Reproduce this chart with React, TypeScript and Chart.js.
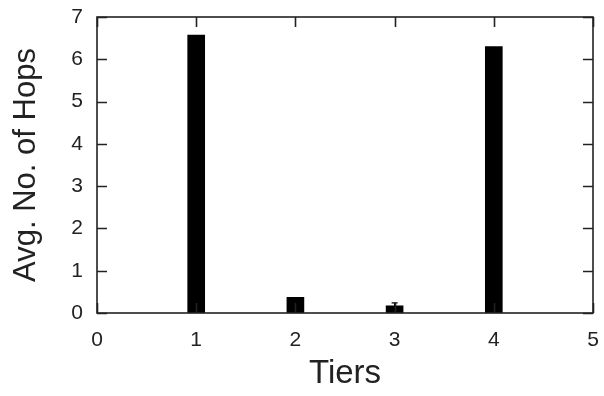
import React, { useEffect, useRef } from "react";
import { Chart, registerables } from "chart.js";

Chart.register(...registerables);

const tiers = [1, 2, 3, 4];
const avgHops = [6.57, 0.37, 0.17, 6.3];
const hopErrors = [0.0, 0.0, 0.07, 0.0];
const xTicks = [0, 1, 2, 3, 4, 5];
const yTicks = [0, 1, 2, 3, 4, 5, 6, 7];

const FONT = "'Liberation Sans', Arial, Helvetica, sans-serif";

const framePlugin = {
  id: "frameTicks",
  afterDatasetsDraw(chart: any) {
    const { ctx, chartArea: a, scales } = chart;
    const xs = scales.x;
    const ys = scales.y;
    ctx.save();
    // error bars
    ctx.strokeStyle = "#000";
    ctx.lineWidth = 1.2;
    tiers.forEach((t, i) => {
      const e = hopErrors[i];
      if (!e) return;
      const px = xs.getPixelForValue(t);
      const y1 = ys.getPixelForValue(avgHops[i] + e);
      const y0 = ys.getPixelForValue(Math.max(0, avgHops[i] - e));
      ctx.beginPath();
      ctx.moveTo(px, y0);
      ctx.lineTo(px, y1);
      ctx.moveTo(px - 3, y1);
      ctx.lineTo(px + 3, y1);
      ctx.stroke();
    });
    ctx.strokeStyle = "#222";
    ctx.lineWidth = 1.6;
    ctx.strokeRect(a.left, a.top, a.right - a.left, a.bottom - a.top);
    const L = 10;
    ctx.beginPath();
    xTicks.forEach((v) => {
      const px = Math.round(xs.getPixelForValue(v)) + 0.5;
      ctx.moveTo(px, a.bottom);
      ctx.lineTo(px, a.bottom - L);
      ctx.moveTo(px, a.top);
      ctx.lineTo(px, a.top + L);
    });
    yTicks.forEach((v) => {
      const py = Math.round(ys.getPixelForValue(v)) + 0.5;
      ctx.moveTo(a.left, py);
      ctx.lineTo(a.left + L, py);
      ctx.moveTo(a.right, py);
      ctx.lineTo(a.right - L, py);
    });
    ctx.stroke();
    ctx.restore();
  },
};

const noPad = (s: any) => {
  s.paddingTop = 0;
  s.paddingBottom = 0;
  s.paddingLeft = 0;
  s.paddingRight = 0;
};

export default function App() {
  const ref = useRef<HTMLCanvasElement | null>(null);
  useEffect(() => {
    if (!ref.current) return;
    const chart = new Chart(ref.current, {
      type: "bar",
      data: {
        datasets: [
          {
            data: tiers.map((t, i) => ({ x: t, y: avgHops[i] })),
            backgroundColor: "#000",
            borderWidth: 0,
            barThickness: 17,
          },
        ],
      },
      options: {
        animation: false,
        responsive: false,
        maintainAspectRatio: false,
        layout: { padding: { top: 17, right: 11, left: 0, bottom: 0 } },
        plugins: { legend: { display: false }, tooltip: { enabled: false } },
        scales: {
          x: {
            type: "linear",
            min: 0,
            max: 5,
            offset: false,
            afterBuildTicks: (s: any) => {
              s.ticks = xTicks.map((v) => ({ value: v }));
            },
            afterFit: (s: any) => {
              s.height = 83;
              noPad(s);
            },
            grid: { display: false, drawTicks: false },
            border: { display: false },
            ticks: {
              color: "#222",
              font: { family: FONT, size: 21 },
              padding: 15,
              maxRotation: 0,
              autoSkip: false,
            },
            title: {
              display: true,
              text: "Tiers",
              color: "#222",
              font: { family: FONT, size: 33 },
              padding: { top: 0, bottom: 2 },
            },
          },
          y: {
            min: 0,
            max: 7,
            afterBuildTicks: (s: any) => {
              s.ticks = yTicks.map((v) => ({ value: v }));
            },
            afterFit: (s: any) => {
              s.width = 97;
              noPad(s);
            },
            grid: { display: false, drawTicks: false },
            border: { display: false },
            ticks: {
              color: "#222",
              font: { family: FONT, size: 21 },
              padding: 14,
              autoSkip: false,
            },
            title: {
              display: true,
              text: "Avg. No. of Hops",
              color: "#222",
              font: { family: FONT, size: 31 },
              padding: { top: 8, bottom: 0 },
            },
          },
        },
      },
      plugins: [framePlugin],
    });
    return () => chart.destroy();
  }, []);
  return (
    <div style={{ position: "fixed", left: 0, top: 0, width: 604, height: 396, background: "#fff" }}>
      <canvas ref={ref} width={604} height={396} style={{ width: 604, height: 396 }} />
    </div>
  );
}
